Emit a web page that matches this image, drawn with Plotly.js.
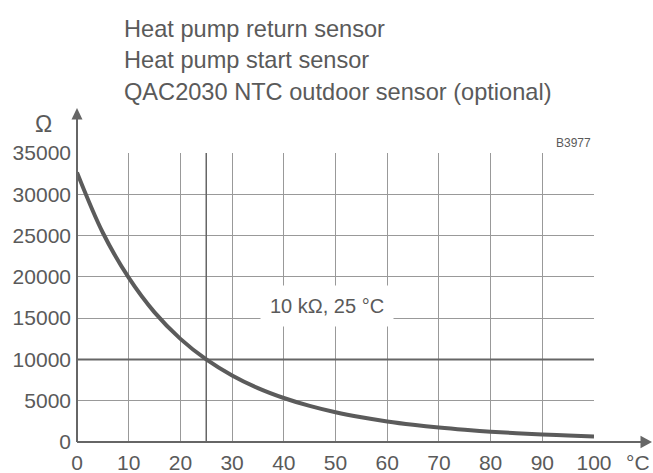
<!DOCTYPE html>
<html>
<head>
<meta charset="utf-8">
<script src="https://cdn.plot.ly/plotly-3.0.1.min.js"></script>
<style>html,body{margin:0;padding:0;background:#fff;}#chart{width:653px;height:473px;}</style>
</head>
<body>
<div id="chart"></div>
<script>
// Temperature (°C) and NTC resistance (Ω)
const temps = [0, 5, 10, 15, 20, 25, 30, 35, 40, 45, 50, 55, 60, 65, 70, 75, 80, 85, 90, 95, 100];
const ohms  = [32650, 25340, 19900, 15700, 12490, 10000, 8060, 6530, 5330, 4370, 3600, 2990, 2490, 2085, 1750, 1480, 1255, 1070, 915, 790, 680];
const refTemp = 25;
const refOhm = 10000;
const headerLines = ["Heat pump return sensor", "Heat pump start sensor", "QAC2030 NTC outdoor sensor (optional)"];
const refLabel = "10 kΩ, 25 °C";
const diagramCode = "B3977";
const xUnit = "°C";
const yUnit = "Ω";

const FONT = "Liberation Sans, Arial, sans-serif";
const TXT = "#5a5a5a";
const AX = "#666666";
const GRID = "#999999";

const trace = {
  x: temps, y: ohms, type: "scatter", mode: "lines",
  line: {color: "#5b5b5b", width: 4, shape: "spline", smoothing: 1},
  hoverinfo: "skip", showlegend: false
};

const headerY = [1.428, 1.322, 1.212];
const annotations = headerLines.map((t, i) => ({
  text: t, xref: "paper", yref: "paper", x: 0.088, y: headerY[i],
  xanchor: "left", yanchor: "middle", showarrow: false,
  font: {family: FONT, size: 23.6, color: TXT}
}));
annotations.push(
  {text: yUnit, xref: "paper", yref: "paper", x: -0.064, y: 1.102, xanchor: "center", yanchor: "middle",
   showarrow: false, font: {family: FONT, size: 23, color: TXT}},
  {text: xUnit, xref: "paper", yref: "paper", x: 1.086, y: -0.072, xanchor: "center", yanchor: "middle",
   showarrow: false, font: {family: FONT, size: 21, color: TXT}},
  {text: diagramCode, xref: "paper", yref: "paper", x: 0.998, y: 1.035, xanchor: "right", yanchor: "middle",
   showarrow: false, font: {family: FONT, size: 12, color: TXT}},
  {text: refLabel, xref: "x", yref: "y", x: 48.4, y: 16450, xanchor: "center", yanchor: "middle",
   showarrow: false, bgcolor: "#ffffff", borderpad: 9, font: {family: FONT, size: 20, color: TXT}}
);

const shapes = [
  // highlighted reference lines
  {type: "line", xref: "x", yref: "y", x0: temps[0], x1: temps[temps.length - 1], y0: refOhm, y1: refOhm,
   line: {color: AX, width: 2}, layer: "between"},
  {type: "line", xref: "x", yref: "y", x0: refTemp, x1: refTemp, y0: 0, y1: 35000,
   line: {color: AX, width: 1.5}, layer: "between"},
  // axis lines with arrows
  {type: "line", xref: "paper", yref: "paper", x0: 0, x1: 1.095, y0: 0, y1: 0,
   line: {color: AX, width: 2}, layer: "above"},
  {type: "line", xref: "paper", yref: "paper", x0: 0, x1: 0, y0: 0, y1: 1.12,
   line: {color: AX, width: 2}, layer: "above"},
  {type: "path", xref: "paper", yref: "paper",
   path: "M 1.1122 0 L 1.0900 0.0215 L 1.0900 -0.0215 Z",
   fillcolor: AX, line: {width: 0}, layer: "above"},
  {type: "path", xref: "paper", yref: "paper",
   path: "M 0 1.1557 L 0.0106 1.1160 L -0.0106 1.1160 Z",
   fillcolor: AX, line: {width: 0}, layer: "above"}
];

const layout = {
  width: 653, height: 473,
  margin: {l: 77, r: 59, t: 153, b: 31, pad: 0},
  paper_bgcolor: "#ffffff", plot_bgcolor: "#ffffff",
  showlegend: false,
  font: {family: FONT, color: TXT},
  xaxis: {
    range: [0, 100], dtick: 10, tick0: 0, showgrid: true, gridcolor: GRID, gridwidth: 1,
    zeroline: false, showline: false, ticks: "", ticklabelstandoff: 6,
    tickfont: {family: FONT, size: 21, color: TXT}, fixedrange: true
  },
  yaxis: {
    range: [0, 35000], dtick: 5000, tick0: 0, tickformat: "d", showgrid: true, gridcolor: GRID, gridwidth: 1,
    zeroline: false, showline: false, ticks: "", ticklabelstandoff: 5,
    tickfont: {family: FONT, size: 21, color: TXT}, fixedrange: true
  },
  annotations: annotations,
  shapes: shapes
};

Plotly.newPlot("chart", [trace], layout, {displayModeBar: false, staticPlot: true});
</script>
</body>
</html>
